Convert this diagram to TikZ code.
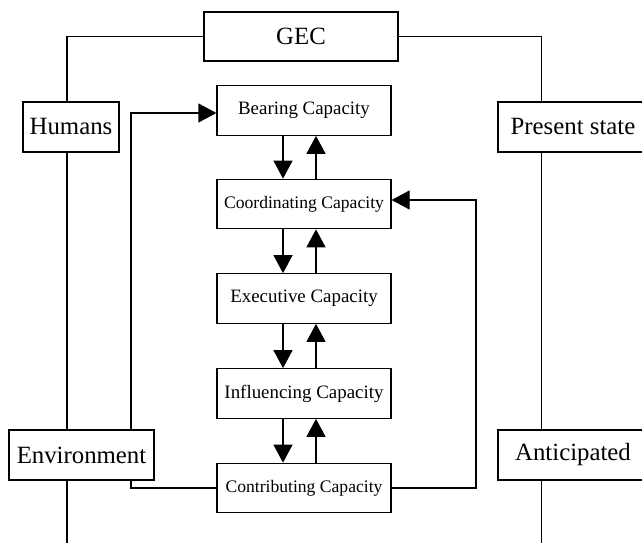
\documentclass[tikz,border=0pt]{standalone}
\usepackage{fontspec}
\setmainfont{Liberation Serif}
\usetikzlibrary{arrows.meta,backgrounds}

\tikzset{
  BigBox/.style={draw, fill=white, line width=1.2, inner sep=0pt, font=\fontsize{24.8}{28}\selectfont},
  CapBox/.style={draw, fill=white, line width=1.2, inner sep=0pt, minimum width=174pt, minimum height=49.5pt, font=\fontsize{18.9}{22}\selectfont},
  FlowArrow/.style={line width=1.2, -{Triangle[length=18pt,width=19pt]}}
}

\begin{document}
\begin{tikzpicture}[x={(1pt,0pt)}, y={(0pt,-1pt)}]

 \useasboundingbox (0,0) rectangle (642,543);
 \clip (0,0) rectangle (642,543);

 %%%%%%%%%% Outer boxes %%%%%%%%%%
 \node[BigBox, minimum width=194pt, minimum height=49pt] (gec) at (301,36.5) {GEC};
 \node[BigBox, minimum width=96pt, minimum height=50pt] (humans) at (71,127) {Humans};
 \node[BigBox, minimum width=145pt, minimum height=50pt] (env) at (81.5,455) {Environment};
 \node[BigBox, minimum width=150pt, minimum height=50pt] (present) at (573,127) {Present state};
 \node[BigBox, minimum width=150pt, minimum height=50pt] (antic) at (573,455) {Anticipated};

 %%%%%%%%%% Capacity boxes %%%%%%%%%%
 \node[CapBox] (bear) at (304,110.5) {Bearing Capacity};
 \node[CapBox, font=\fontsize{17.6}{21}\selectfont] (coord) at (304,204) {Coordinating Capacity};
 \node[CapBox] (exec) at (304,298.5) {Executive Capacity};
 \node[CapBox] (infl) at (304,393.5) {Influencing Capacity};
 \node[CapBox, font=\fontsize{17.6}{21}\selectfont] (contrib) at (304,488) {Contributing Capacity};

 %%%%%%%%%% Points pour les lignes %%%%%%%%%%
 \coordinate (botL) at (67,543) ;
 \coordinate (botR) at (541.5,543) ;
 \coordinate (loopL) at (131,0) ;
 \coordinate (loopR) at (476,0) ;
 \coordinate (inBear) at ([yshift=-2.5pt]bear.west) ;
 \coordinate (inCoord) at ([yshift=4pt]coord.east) ;

 \begin{scope}[on background layer]
 % Spines
 \draw [line width=1.2] (gec.west) -| (botL) ;
 \draw [line width=1.2] (gec.east) -| (botR) ;

 % Feedback loops
 \draw [FlowArrow] (contrib.west) -- (contrib.west -| loopL) -- (inBear -| loopL) -- (inBear) ;
 \draw [FlowArrow] (contrib.east) -- (contrib.east -| loopR) -- (inCoord -| loopR) -- (inCoord) ;
 \end{scope}

 %%%%%%%%%% Down arrows %%%%%%%%%%
 \draw [FlowArrow] ([xshift=-21pt]bear.south) -- ([xshift=-21pt]coord.north) ;
 \draw [FlowArrow] ([xshift=-21pt]coord.south) -- ([xshift=-21pt]exec.north) ;
 \draw [FlowArrow] ([xshift=-21pt]exec.south) -- ([xshift=-21pt]infl.north) ;
 \draw [FlowArrow] ([xshift=-21pt]infl.south) -- ([xshift=-21pt]contrib.north) ;

 %%%%%%%%%% Up arrows %%%%%%%%%%
 \draw [FlowArrow] ([xshift=12pt]coord.north) -- ([xshift=12pt]bear.south) ;
 \draw [FlowArrow] ([xshift=12pt]exec.north) -- ([xshift=12pt]coord.south) ;
 \draw [FlowArrow] ([xshift=12pt]infl.north) -- ([xshift=12pt]exec.south) ;
 \draw [FlowArrow] ([xshift=12pt]contrib.north) -- ([xshift=12pt]infl.south) ;

\end{tikzpicture}
\end{document}
